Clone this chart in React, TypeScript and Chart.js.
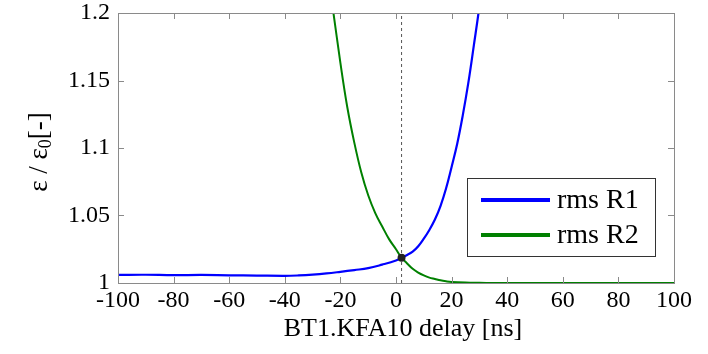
import React, { useEffect, useRef } from "react";
import { Chart, registerables } from "chart.js";

Chart.register(...registerables);

const xTicks = [-100, -80, -60, -40, -20, 0, 20, 40, 60, 80, 100];
const yTicks = [1, 1.05, 1.1, 1.15, 1.2];

const r1X = [-100, -90, -80, -70, -60, -50, -40, -35, -30, -25, -20, -15, -10, -5, 0, 2, 4, 6, 8, 10, 12, 14, 16, 18, 20, 22, 24, 26, 28, 30, 32];
const r1Y = [1.006, 1.0061, 1.0058, 1.006, 1.0057, 1.0055, 1.0053, 1.0056, 1.0062, 1.0071, 1.0083, 1.0096, 1.011, 1.0136, 1.0167, 1.0187, 1.0208, 1.0232, 1.0272, 1.0328, 1.0393, 1.047, 1.057, 1.07, 1.086, 1.103, 1.124, 1.148, 1.176, 1.205, 1.24];

const r2X = [-26, -22.5, -20, -17.5, -15, -12.5, -10, -7.5, -5, -2.5, 0, 2, 4, 6, 8, 10, 12, 14, 16, 18, 20, 25, 30, 35, 40, 50, 60, 70, 80, 90, 100];
const r2Y = [1.25, 1.2, 1.163, 1.13, 1.104, 1.082, 1.065, 1.052, 1.042, 1.0325, 1.025, 1.0187, 1.0145, 1.0105, 1.0077, 1.0056, 1.004, 1.003, 1.002, 1.0013, 1.0008, 1.0003, 1.0001, 1.0, 1.0, 1.0, 1.0, 1.0, 1.0, 1.0, 1.0];

const markerX = 2;
const markerY = 1.0187;
const seriesNames = ["rms R1", "rms R2"];
const seriesColors = ["#0000ff", "#008000"];

const FONT = "'Liberation Serif', 'DejaVu Serif', serif";

const framePlugin = {
  id: "frame",
  afterDatasetsDraw(chart: any) {
    const { ctx, chartArea: a, scales } = chart;
    const xs = scales.x;
    const ys = scales.y;
    ctx.save();
    // box
    ctx.strokeStyle = "#8a8a8a";
    ctx.lineWidth = 1;
    ctx.strokeRect(Math.round(a.left) + 0.5, Math.round(a.top) + 0.5, Math.round(a.right - a.left), Math.round(a.bottom - a.top));
    // ticks inward
    const tl = 6;
    ctx.beginPath();
    xTicks.forEach((v) => {
      const px = Math.round(xs.getPixelForValue(v)) + 0.5;
      ctx.moveTo(px, a.bottom);
      ctx.lineTo(px, a.bottom - tl);
      ctx.moveTo(px, a.top);
      ctx.lineTo(px, a.top + tl);
    });
    yTicks.forEach((v) => {
      const py = Math.round(ys.getPixelForValue(v)) + 0.5;
      ctx.moveTo(a.left, py);
      ctx.lineTo(a.left + tl, py);
      ctx.moveTo(a.right, py);
      ctx.lineTo(a.right - tl, py);
    });
    ctx.stroke();

    // marker
    ctx.fillStyle = "#222222";
    ctx.beginPath();
    ctx.arc(xs.getPixelForValue(markerX), ys.getPixelForValue(markerY), 4, 0, Math.PI * 2);
    ctx.fill();

    // legend
    const lx = 467, ly = 178, lw = 188, lh = 78;
    ctx.fillStyle = "#ffffff";
    ctx.fillRect(lx, ly, lw, lh);
    ctx.strokeStyle = "#333333";
    ctx.lineWidth = 1;
    ctx.strokeRect(lx + 0.5, ly + 0.5, lw, lh);
    const rows = [200, 235];
    ctx.font = `28px ${FONT}`;
    ctx.textBaseline = "middle";
    ctx.textAlign = "left";
    seriesNames.forEach((n, i) => {
      ctx.strokeStyle = seriesColors[i];
      ctx.lineWidth = 4;
      ctx.beginPath();
      ctx.moveTo(481, rows[i]);
      ctx.lineTo(550, rows[i]);
      ctx.stroke();
      ctx.fillStyle = "#000000";
      ctx.fillText(n, 557, rows[i] + 1);
    });

    // x title
    ctx.fillStyle = "#000";
    ctx.font = `26px ${FONT}`;
    ctx.textAlign = "center";
    ctx.textBaseline = "middle";
    ctx.fillText("BT1.KFA10 delay [ns]", 403, 329);

    // y title with subscript
    ctx.translate(40, 152);
    ctx.rotate(-Math.PI / 2);
    const big = `27px ${FONT}`;
    const small = `18px ${FONT}`;
    const parts: [string, string, number][] = [
      ["ε / ε", big, 0],
      ["0", small, 6],
      ["[-]", big, 0],
    ];
    let total = 0;
    parts.forEach(([t, f]) => {
      ctx.font = f;
      total += ctx.measureText(t).width;
    });
    let cx = -total / 2;
    ctx.textAlign = "left";
    parts.forEach(([t, f, dy]) => {
      ctx.font = f;
      ctx.fillText(t, cx, dy);
      cx += ctx.measureText(t).width;
    });
    ctx.restore();
  },
};

export default function App() {
  const ref = useRef<HTMLCanvasElement>(null);
  useEffect(() => {
    document.body.style.margin = "0";
    const canvas = ref.current!;
    const chart = new Chart(canvas, {
      type: "scatter",
      data: {
        datasets: [
          {
            label: seriesNames[0],
            data: r1X.map((x, i) => ({ x, y: r1Y[i] })),
            showLine: true,
            borderColor: seriesColors[0],
            borderWidth: 2.2,
            pointRadius: 0,
            tension: 0.4,
          },
          {
            label: seriesNames[1],
            data: r2X.map((x, i) => ({ x, y: r2Y[i] })),
            showLine: true,
            borderColor: seriesColors[1],
            borderWidth: 2,
            pointRadius: 0,
            tension: 0.4,
          },
          {
            label: "delay",
            data: [
              { x: markerX, y: 1 },
              { x: markerX, y: 1.2 },
            ],
            showLine: true,
            borderColor: "#555555",
            borderWidth: 1,
            borderDash: [3, 3],
            pointRadius: 0,
          },
        ],
      },
      options: {
        responsive: false,
        animation: false,
        layout: { padding: { top: 13, right: 34, left: 0, bottom: 0 } },
        plugins: { legend: { display: false }, tooltip: { enabled: false } },
        scales: {
          x: {
            type: "linear",
            min: -100,
            max: 100,
            afterBuildTicks: (s: any) => {
              s.ticks = xTicks.map((v) => ({ value: v }));
            },
            afterFit: (s: any) => {
              s.height = 354 - 283;
              s.paddingLeft = 0;
              s.paddingRight = 0;
            },
            grid: { display: false, drawTicks: false },
            border: { display: false },
            ticks: {
              color: "#000",
              font: { family: FONT, size: 24 },
              padding: 3,
              maxRotation: 0,
              autoSkip: false,
              callback: (v: any) => String(Math.round(Number(v))),
            },
          },
          y: {
            type: "linear",
            min: 1,
            max: 1.2,
            afterBuildTicks: (s: any) => {
              s.ticks = yTicks.map((v) => ({ value: v }));
            },
            afterFit: (s: any) => {
              s.width = 118;
              s.paddingTop = 0;
              s.paddingBottom = 0;
            },
            grid: { display: false, drawTicks: false },
            border: { display: false },
            ticks: {
              color: "#000",
              font: { family: FONT, size: 24 },
              padding: 8,
              autoSkip: false,
              callback: (v: any) => String(Number(Number(v).toFixed(2))),
            },
          },
        },
      },
      plugins: [framePlugin],
    });
    return () => chart.destroy();
  }, []);
  return (
    <div style={{ width: 708, height: 354 }}>
      <canvas ref={ref} width={708} height={354} style={{ display: "block" }} />
    </div>
  );
}
